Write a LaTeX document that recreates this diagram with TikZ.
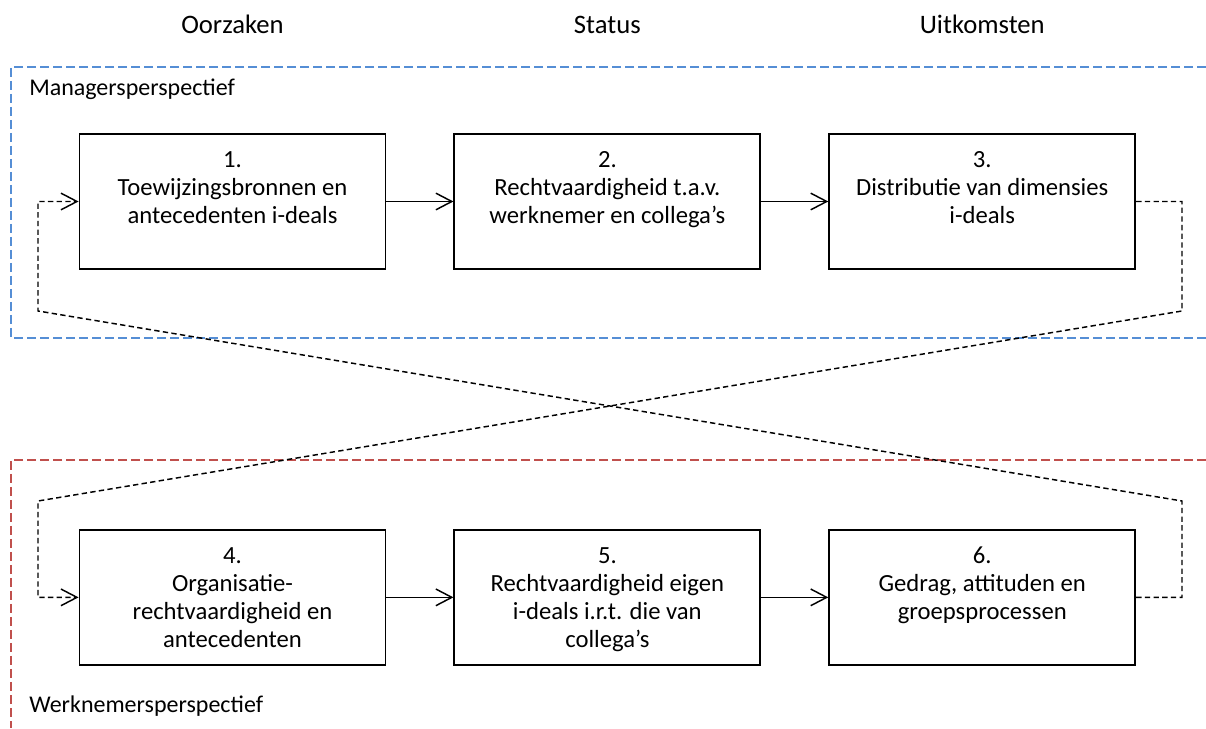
\documentclass[tikz,border=0pt]{standalone}
\usepackage{fontspec}
\setmainfont{Carlito}
\usepackage{tikz}
\usetikzlibrary{arrows.meta}
\usetikzlibrary{positioning}

\definecolor{mgrblue}{RGB}{85,142,213}
\definecolor{wnred}{RGB}{192,80,77}

\begin{document}
\begin{tikzpicture}[%
  x=0.75pt, y=0.75pt,
  node distance=50.25pt,
  box/.style={draw, line width=1.4pt, minimum width=229.5pt,
    minimum height=101.25pt, inner sep=0pt},
  boxtext/.style={align=center, inner sep=0pt,
    font=\fontsize{18.5}{21}\selectfont},
  head/.style={inner sep=0pt, anchor=base,
    font=\fontsize{20}{24}\selectfont},
  persp/.style={inner sep=0pt, anchor=base west,
    font=\fontsize{18}{21}\selectfont},
  flow/.style={-{Straight Barb[length=12pt,width=12.5pt]}, line width=1.1pt},
  feedback/.style={flow, dash pattern=on 4pt off 2.5pt},
  frame/.style={dash pattern=on 6.75pt off 3pt, line width=1.3pt}]

  \useasboundingbox (0,0) rectangle (1206,728);

  % perspectives
  \draw[frame, mgrblue] (1206,661) -- (11,661) -- (11,390) -- (1206,390);
  \draw[frame, wnred] (1206,268) -- (11,268) -- (11,0);
  \node[persp] (mp) at (29,632) {Managersperspectief};
  \node[persp] (wp) at (29,16) {Werknemersperspectief};

  % boxes
  \node[box] (b1) at (232.5,526.5) {};
  \node[box, right=of b1] (b2) {};
  \node[box, right=of b2] (b3) {};
  \node[box, below=194.25pt of b1] (b4) {};
  \node[box, right=of b4] (b5) {};
  \node[box, right=of b5] (b6) {};

  \node[boxtext, below=13.5pt of b1.north] (t1)
    {1.\\Toewijzingsbronnen en\\antecedenten i-deals};
  \node[boxtext, below=13.5pt of b2.north] (t2)
    {2.\\Rechtvaardigheid t.a.v.\\werknemer en collega’s};
  \node[boxtext, below=13.5pt of b3.north] (t3)
    {3.\\Distributie van dimensies\\i-deals};
  \node[boxtext, below=13.5pt of b4.north] (t4)
    {4.\\Organisatie-\\rechtvaardigheid en\\antecedenten};
  \node[boxtext, below=13.5pt of b5.north] (t5)
    {5.\\Rechtvaardigheid eigen\\i-deals i.r.t. die van\\collega’s};
  \node[boxtext, below=13.5pt of b6.north] (t6)
    {6.\\Gedrag, attituden en\\groepsprocessen};

  % column heads
  \node[head] (h1) at (b1.center |- 0,694) {Oorzaken};
  \node[head] (h2) at (b2.center |- 0,694) {Status};
  \node[head] (h3) at (b3.center |- 0,694) {Uitkomsten};

  % arrows
  \draw[flow] (b1) -- (b2);
  \draw[flow] (b2) -- (b3);
  \draw[flow] (b4) -- (b5);
  \draw[flow] (b5) -- (b6);

  % feedback lines
  \coordinate (rt) at (1182,417);
  \coordinate (rb) at (1182,227);
  \coordinate (lt) at (38,417);
  \coordinate (lb) at (38,227);
  \draw[feedback] (b3.east) -| (rt) -- (lb) |- (b4.west);
  \draw[feedback] (b6.east) -| (rb) -- (lt) |- (b1.west);
\end{tikzpicture}
\end{document}
